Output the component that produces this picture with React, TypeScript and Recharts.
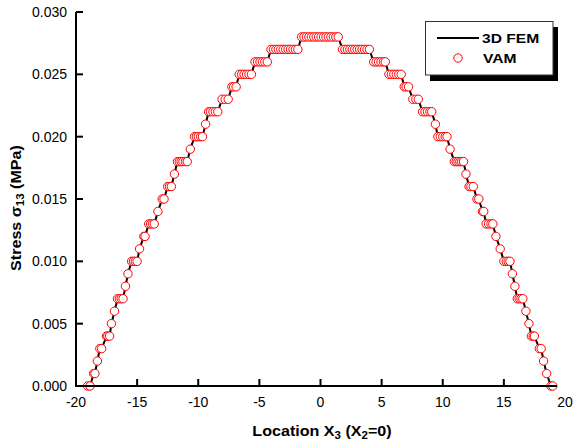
import { ComposedChart, Line, XAxis, YAxis } from 'recharts';

// stress level (MPa) of each plateau, left to right
const stressLevels = [
  0, 0.001, 0.002, 0.003, 0.004, 0.005, 0.006, 0.007, 0.008, 0.009,
  0.01, 0.011, 0.012, 0.013, 0.014, 0.015, 0.016, 0.017, 0.018, 0.019,
  0.02, 0.021, 0.022, 0.023, 0.024, 0.025, 0.026, 0.027, 0.028,
  0.027, 0.026, 0.025, 0.024, 0.023, 0.022, 0.021, 0.02, 0.019, 0.018,
  0.017, 0.016, 0.015, 0.014, 0.013, 0.012, 0.011, 0.01, 0.009, 0.008,
  0.007, 0.006, 0.005, 0.004, 0.003, 0.002, 0.001, 0,
];

// X3 locations of the points on each plateau
const plateauLocations: number[][] = [
  [-19.05, -18.85],
  [-18.55, -18.45],
  [-18.25],
  [-18.05, -17.9],
  [-17.5, -17.4, -17.25],
  [-17.1],
  [-16.85],
  [-16.6, -16.45, -16.3, -16.15],
  [-15.95],
  [-15.75],
  [-15.45, -15.3, -15.15, -15.0],
  [-14.8],
  [-14.45, -14.35],
  [-14.05, -13.9, -13.75, -13.6],
  [-13.3],
  [-12.95, -12.8],
  [-12.5, -12.35, -12.2],
  [-11.95],
  [-11.7, -11.55, -11.4, -11.25, -11.05, -10.9],
  [-10.65],
  [-10.3, -10.15, -10.0, -9.8, -9.65],
  [-9.4],
  [-9.15, -9.0, -8.8, -8.6, -8.4],
  [-8.05, -7.8, -7.55],
  [-7.25, -7.1, -6.9],
  [-6.65, -6.45, -6.25, -6.05, -5.85, -5.65],
  [-5.35, -5.15, -4.95, -4.75, -4.55, -4.35],
  [-4.05, -3.85, -3.65, -3.45, -3.25, -3.05, -2.85, -2.65, -2.45, -2.25, -2.05, -1.85],
  [-1.55, -1.35, -1.15, -0.95, -0.75, -0.55, -0.35, -0.15, 0.05, 0.25, 0.45, 0.65, 0.85, 1.05, 1.25, 1.45],
  [1.8, 2.0, 2.2, 2.4, 2.6, 2.8, 3.0, 3.2, 3.4, 3.6, 3.8, 4.0],
  [4.35, 4.55, 4.75, 4.95, 5.15, 5.3],
  [5.6, 5.8, 6.0, 6.2, 6.4, 6.6],
  [6.85, 7.0, 7.2],
  [7.55, 7.8, 8.0],
  [8.35, 8.55, 8.75, 8.95, 9.1],
  [9.4],
  [9.6, 9.8, 10.0, 10.2, 10.35],
  [10.6],
  [10.95, 11.1, 11.25, 11.4, 11.55, 11.7],
  [11.9],
  [12.15, 12.3, 12.5],
  [12.8, 12.95],
  [13.25, 13.35],
  [13.55, 13.75, 13.95, 14.1],
  [14.35],
  [14.7],
  [15.0, 15.2, 15.35, 15.5],
  [15.7],
  [15.9],
  [16.1, 16.25, 16.4, 16.55],
  [16.8],
  [17.05],
  [17.25, 17.4, 17.5],
  [17.9, 18.05],
  [18.25],
  [18.5],
  [18.85, 19.0],
];

const xTicks = [-20, -15, -10, -5, 0, 5, 10, 15, 20];
const yTicks = [0, 0.005, 0.01, 0.015, 0.02, 0.025, 0.03];

const data = plateauLocations.flatMap((xs, i) =>
  xs.map((x) => ({ x, fem: stressLevels[i], vam: stressLevels[i] }))
);

const font = 'Arial, "Liberation Sans", sans-serif';

function XTick(props: any) {
  const { x, y, payload } = props;
  return (
    <g>
      {payload.value !== 20 && (
        <line x1={x} x2={x} y1={y} y2={y - 7} stroke="#000" strokeWidth={2} />
      )}
      <text x={x} y={y + 20.5} textAnchor="middle" fontSize={14} fontFamily={font} fill="#000">
        {payload.value}
      </text>
    </g>
  );
}

function YTick(props: any) {
  const { x, y, payload } = props;
  return (
    <g>
      <line x1={x} x2={x + 7} y1={y} y2={y} stroke="#000" strokeWidth={2} />
      <text x={x - 9} y={y + 5} textAnchor="end" fontSize={14} fontFamily={font} fill="#000">
        {payload.value.toFixed(3)}
      </text>
    </g>
  );
}

export default function App() {
  return (
    <div style={{ position: 'absolute', left: 0, top: 0, width: 573, height: 441, background: '#fff' }}>
      <ComposedChart
        width={573}
        height={441}
        data={data}
        margin={{ top: 12, right: 8, bottom: 0, left: 0 }}
      >
        <XAxis
          type="number"
          dataKey="x"
          domain={[-20, 20]}
          ticks={xTicks}
          axisLine={false}
          tickLine={false}
          tickSize={0}
          tickMargin={0}
          height={55}
          tick={<XTick />}
          interval={0}
        />
        <YAxis
          type="number"
          domain={[0, 0.03]}
          ticks={yTicks}
          axisLine={{ stroke: '#000', strokeWidth: 2 }}
          tickLine={false}
          tickSize={0}
          tickMargin={0}
          width={76}
          tick={<YTick />}
          interval={0}
        />
        <Line
          type="linear"
          dataKey="fem"
          stroke="#000"
          strokeWidth={2}
          dot={false}
          activeDot={false}
          isAnimationActive={false}
        />
        <Line
          type="linear"
          dataKey="vam"
          stroke="none"
          dot={{ r: 4.2, stroke: '#ff0000', strokeWidth: 1, fill: '#fff' }}
          activeDot={false}
          isAnimationActive={false}
        />
      </ComposedChart>
      <svg
        width={573}
        height={441}
        style={{ position: 'absolute', left: 0, top: 0, pointerEvents: 'none' }}
      >
        <line x1={75} x2={557} y1={386} y2={386} stroke="#000" strokeWidth={2} />
        <text
          transform="translate(322,436) scale(1.15,1)"
          textAnchor="middle"
          fontSize={14}
          fontWeight="bold"
          fontFamily={font}
          fill="#000"
        >
          Location X<tspan fontSize={10} dy={3}>3</tspan>
          <tspan dy={-3}> (X</tspan>
          <tspan fontSize={10} dy={3}>2</tspan>
          <tspan dy={-3}>=0)</tspan>
        </text>
        <text
          transform="translate(21,208) rotate(-90) scale(1.15,1)"
          textAnchor="middle"
          fontSize={14}
          fontWeight="bold"
          fontFamily={font}
          fill="#000"
        >
          Stress σ<tspan fontSize={10} dy={3}>13</tspan>
          <tspan dy={-3}> (MPa)</tspan>
        </text>
        <rect x={430} y={27} width={128} height={54} fill="#000" />
        <rect x={425.5} y={21.5} width={127.5} height={53.5} fill="#fff" stroke="#333" strokeWidth={1} />
        <line x1={437} x2={479} y1={38} y2={38} stroke="#000" strokeWidth={2} />
        <text
          transform="translate(482,42.5) scale(1.2,1)"
          fontSize={13}
          fontWeight="bold"
          fontFamily={font}
          fill="#000"
        >
          3D FEM
        </text>
        <circle cx={458} cy={58} r={4.2} stroke="#ff0000" strokeWidth={1} fill="#fff" />
        <text
          transform="translate(483,63) scale(1.2,1)"
          fontSize={13}
          fontWeight="bold"
          fontFamily={font}
          fill="#000"
        >
          VAM
        </text>
      </svg>
    </div>
  );
}
